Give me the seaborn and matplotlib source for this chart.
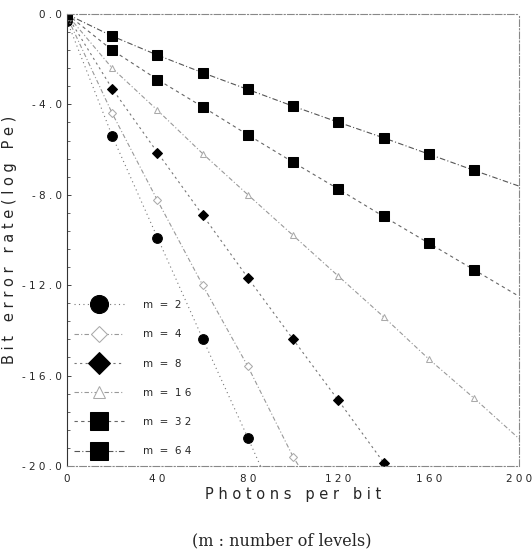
import numpy as np
import pandas as pd
import matplotlib
matplotlib.use("Agg")
import matplotlib.pyplot as plt
import seaborn as sns

# photons per bit at each measured point
x_m2 = [0, 20, 40, 60, 80]
y_m2 = [-0.30, -5.40, -9.90, -14.37, -18.76]

x_m4 = [0, 20, 40, 60, 80, 100]
y_m4 = [-0.12, -4.40, -8.25, -12.00, -15.60, -19.60]

x_m8 = [0, 20, 40, 60, 80, 100, 120, 140]
y_m8 = [-0.06, -3.31, -6.13, -8.90, -11.68, -14.40, -17.10, -19.85]

x_m16 = [0, 20, 40, 60, 80, 100, 120, 140, 160, 180]
y_m16 = [-0.03, -2.40, -4.26, -6.18, -8.00, -9.80, -11.60, -13.40, -15.27, -17.00]

x_m32 = [0, 20, 40, 60, 80, 100, 120, 140, 160, 180]
y_m32 = [-0.01, -1.60, -2.90, -4.11, -5.35, -6.56, -7.75, -8.96, -10.14, -11.32]

x_m64 = [0, 20, 40, 60, 80, 100, 120, 140, 160, 180]
y_m64 = [-0.01, -0.98, -1.82, -2.60, -3.34, -4.08, -4.79, -5.48, -6.20, -6.92]

# where each fitted line runs out (no marker there)
end_x = [90, 110, 145, 200, 200, 200]
end_y = [-21.0, -21.2, -21.1, -18.8, -12.5, -7.62]

labels = ["m = 2", "m = 4", "m = 8", "m = 16", "m = 32", "m = 64"]


def main():
    sns.set_style("white")
    plt.rcParams["font.family"] = ["DejaVu Sans"]

    fig = plt.figure(figsize=(5.32, 5.6), dpi=100)
    ax = fig.add_axes([0.126, 0.168, 0.85, 0.807])

    series = [(x_m2, y_m2), (x_m4, y_m4), (x_m8, y_m8),
              (x_m16, y_m16), (x_m32, y_m32), (x_m64, y_m64)]
    styles = [
        dict(marker="o", ms=7, mfc="black", mec="black", ls=(0, (1, 3)), color="#777777"),
        dict(marker="D", ms=4.5, mfc="white", mec="#aaaaaa", ls=(0, (4, 2, 1, 2)), color="#999999"),
        dict(marker="D", ms=5.5, mfc="black", mec="black", ls=(0, (2, 3)), color="#777777"),
        dict(marker="^", ms=4.5, mfc="white", mec="#aaaaaa", ls=(0, (4, 2, 1, 2)), color="#999999"),
        dict(marker="s", ms=7, mfc="black", mec="black", ls=(0, (3, 3)), color="#666666"),
        dict(marker="s", ms=7, mfc="black", mec="black", ls=(0, (5, 2, 1, 2)), color="#555555"),
    ]
    # legend marker sizes in points
    leg_ms = [13, 8, 11, 8, 12.5, 12.5]

    for (xs, ys), st, lab, ex, ey in zip(series, styles, labels, end_x, end_y):
        df = pd.DataFrame({"x": list(xs) + [ex], "y": list(ys) + [ey]})
        sns.lineplot(data=df, x="x", y="y", ax=ax, lw=0.8, label=lab,
                     markevery=list(range(len(xs))), sort=False,
                     estimator=None, **st)

    ax.set_xlim(0, 200)
    ax.set_ylim(-20, 0)
    ax.set_xticks(np.arange(0, 201, 40))
    ax.set_yticks(np.arange(-20, 0.1, 4))
    ax.set_yticks(np.arange(-20, 0.1, 0.8), minor=True)
    ax.set_xticklabels([" ".join(str(v)) for v in range(0, 201, 40)], fontsize=7.5)
    ax.set_yticklabels([" ".join(f"{v:.1f}") for v in np.arange(-20, 0.1, 4)], fontsize=7.5)
    ax.tick_params(axis="y", which="major", direction="in", length=3, left=True, width=0.6)
    ax.tick_params(axis="y", which="minor", direction="in", length=2, left=True, width=0.5)
    ax.tick_params(axis="x", which="major", direction="in", length=0, pad=6)

    for side, sp in ax.spines.items():
        sp.set_linestyle((0, (6, 2, 1, 2)))
        sp.set_linewidth(0.8)
        sp.set_color("#888888")
    ax.spines["left"].set_color("#333333")
    ax.spines["left"].set_linestyle((0, (8, 1)))

    ax.set_xlabel("P h o t o n s   p e r   b i t", fontsize=10.5, labelpad=2)
    ax.set_ylabel("B i t   e r r o r   r a t e ( l o g   P e )", fontsize=10.5, labelpad=4)

    leg = ax.legend(loc="lower left", bbox_to_anchor=(0.0, 0.005), frameon=False,
                    borderaxespad=0.3, handlelength=4.8, handletextpad=1.8,
                    labelspacing=1.85, fontsize=7.5)
    for h, ms in zip(leg.legend_handles, leg_ms):
        h.set_markersize(ms)
    for t in leg.get_texts():
        t.set_text(" ".join(t.get_text().replace(" = ", "=")).replace("=", " = "))

    fig.text(0.53, 0.035, "(m : number of levels)", ha="center", va="center",
             fontsize=11.5, family="DejaVu Serif")

    fig.savefig("out.png", dpi=100)
    plt.close(fig)


if __name__ == "__main__":
    main()
